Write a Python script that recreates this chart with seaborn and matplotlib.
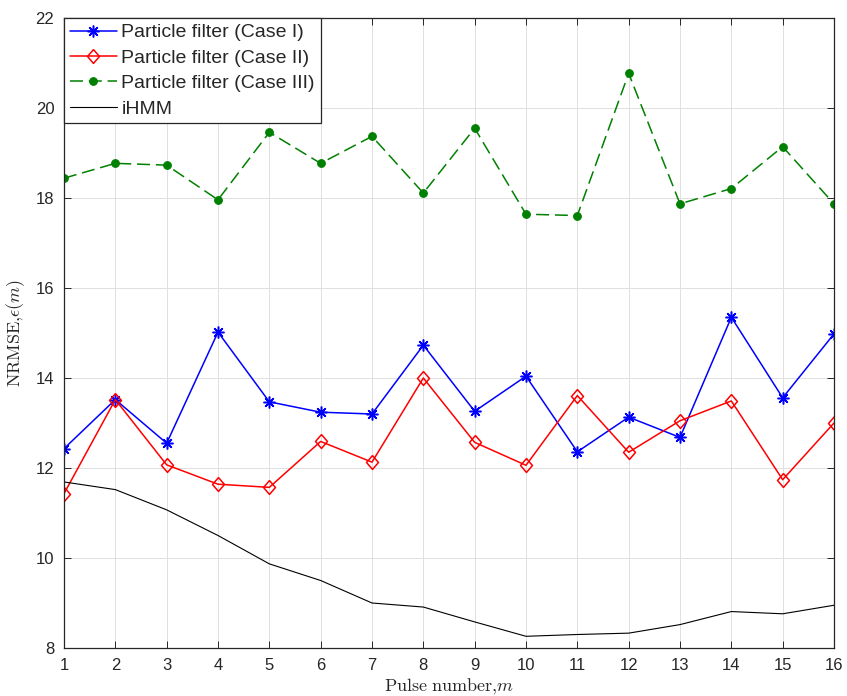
import matplotlib
matplotlib.use("Agg")
import matplotlib.pyplot as plt
import seaborn as sns

# NRMSE per pulse for each tracker
pulse = list(range(1, 17))
pf_case1 = [12.43, 13.52, 12.55, 15.02, 13.47, 13.24, 13.20, 14.73,
            13.26, 14.04, 12.36, 13.13, 12.68, 15.35, 13.56, 14.98]
pf_case2 = [11.43, 13.52, 12.07, 11.64, 11.57, 12.59, 12.13, 14.00,
            12.57, 12.06, 13.61, 12.35, 13.05, 13.49, 11.74, 13.00]
pf_case3 = [18.44, 18.77, 18.73, 17.96, 19.46, 18.77, 19.37, 18.11,
            19.55, 17.64, 17.61, 20.77, 17.87, 18.21, 19.14, 17.87]
ihmm = [11.69, 11.52, 11.07, 10.50, 9.87, 9.50, 9.00, 8.91,
        8.58, 8.26, 8.30, 8.33, 8.52, 8.81, 8.76, 8.95]

labels = ["Particle filter (Case I)", "Particle filter (Case II)",
          "Particle filter (Case III)", "iHMM"]
x_ticks = list(range(1, 17))
y_ticks = list(range(8, 23, 2))

sns.set_theme(style="whitegrid")
plt.rcParams["font.family"] = ["Liberation Sans", "DejaVu Sans"]
plt.rcParams["mathtext.fontset"] = "cm"

axis_grey = "#262626"

fig = plt.figure(figsize=(8.47, 6.96), dpi=100)
fig.patch.set_facecolor("white")
ax = fig.add_axes([64 / 847, 1 - 648 / 696, (834 - 64) / 847, (648 - 18) / 696])
ax.set_facecolor("white")

diamond = [(0, 1), (0.86, 0), (0, -1), (-0.86, 0), (0, 1)]

sns.lineplot(x=pulse, y=pf_case1, ax=ax, color="#0000ff", linewidth=1.1,
             marker=(8, 2, 0), markersize=8.5, markeredgecolor="#0000ff",
             markeredgewidth=1.1, label=labels[0])
sns.lineplot(x=pulse, y=pf_case2, ax=ax, color="#ff0000", linewidth=1.1,
             marker=diamond, markersize=10, markeredgecolor="#ff0000",
             markerfacecolor="none", markeredgewidth=1.1, label=labels[1])
sns.lineplot(x=pulse, y=pf_case3, ax=ax, color="#008000", linewidth=1.1,
             linestyle=(0, (8.5, 3.8)), marker="o", markersize=5.5,
             markeredgecolor="#008000", markerfacecolor="#008000",
             markeredgewidth=0.8, label=labels[2])
sns.lineplot(x=pulse, y=ihmm, ax=ax, color="black", linewidth=0.8,
             label=labels[3])

ax.set_xlim(1, 16)
ax.set_ylim(8, 22)
ax.set_xticks(x_ticks)
ax.set_yticks(y_ticks)
ax.grid(True, color="#e0e0e0", linewidth=0.7)
ax.set_axisbelow(True)
for side in ["left", "right", "top", "bottom"]:
    ax.spines[side].set_visible(True)
    ax.spines[side].set_color(axis_grey)
    ax.spines[side].set_linewidth(0.9)
ax.tick_params(axis="both", which="major", direction="in", length=5,
               width=0.7, color=axis_grey, labelcolor=axis_grey,
               labelsize=12, top=True, right=True, bottom=True, left=True,
               pad=7)

ax.set_xlabel(r"$\mathrm{Pulse\ number{,}}m$", fontsize=13, color=axis_grey,
              labelpad=3)
ax.set_ylabel(r"$\mathrm{NRMSE{,}}\epsilon(m)$", fontsize=13, color=axis_grey,
              labelpad=6)

leg = ax.legend(loc="upper left", bbox_to_anchor=(0, 1), borderaxespad=0,
                frameon=True, fancybox=False, framealpha=1,
                edgecolor=axis_grey, fontsize=14, handlelength=2.4,
                handletextpad=0.25, labelspacing=0.4, borderpad=0.3)
leg.get_frame().set_linewidth(0.9)

fig.savefig("out.png", dpi=100, facecolor="white")
